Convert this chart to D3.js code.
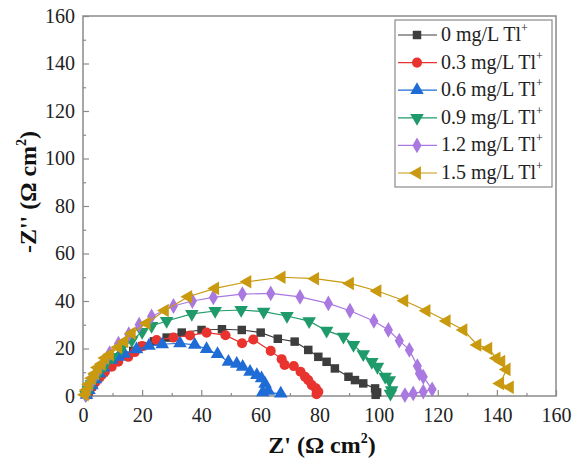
<!DOCTYPE html>
<html><head><meta charset="utf-8">
<script src="https://cdn.jsdelivr.net/npm/d3@7"></script>
<style>
body{margin:0;background:#fff;}
svg{display:block;font-family:"Liberation Serif","Times New Roman",serif;}
</style></head>
<body><svg id="c" width="573" height="469"></svg>
<script>
const seriesNames = ["0 mg/L Tl", "0.3 mg/L Tl", "0.6 mg/L Tl", "0.9 mg/L Tl", "1.2 mg/L Tl", "1.5 mg/L Tl"];
const seriesColors = ["#3d3d3d", "#e8332f", "#1f6cd6", "#1f9a6a", "#a978e0", "#c99a10"];
const seriesSymbols = ["square", "circle", "up", "down", "diamond", "left"];

const x0 = [1.5,2,3,4,5.5,7,9,11.5,14,17,20,24,28.3,33.4,40.1,47,53.7,60.1,65.9,71.6,76.2,79.6,82.4,85.2,89.8,92,94.8,98.8,99.5,99];
const y0 = [0.5,2,4,6,8,10,12.5,15,17,19,21,23,24.6,26.7,27.8,28.1,27.8,26.7,24.1,22.9,19.4,16.5,14.4,11.6,8.1,6.7,5.3,3.2,1.5,0.5];

const x1 = [1.5,1.8,2.5,3.5,4.3,5.2,6.3,7.4,9.7,11.9,15.3,17.5,20,24.9,30.6,36.2,41.8,48.2,53.8,57.6,63.5,67.2,68.2,71.3,73.6,75.1,76.2,77.4,78.8,79.6,79];
const y1 = [0.5,1.8,3.2,4.6,6,7.4,8.8,10.2,12.3,14.4,16.5,18.5,21,23.6,24.6,25.5,26.7,25.6,22.2,23.8,19,15.5,13.1,12.6,10.2,8.1,6.7,4.6,3.2,1.8,0.8];

const x2 = [1.2,2,3,4.2,5.5,7,9.7,12,14,18.1,22.3,26.8,32.8,37.8,41.8,45.5,49.2,52,54,56.5,58.8,60.4,61.6,62.7,60.8,66.9];
const y2 = [0.5,2.5,4.5,7,9.5,12,15.2,16.5,17.8,19.6,21.1,21.8,22.2,21.5,19.8,17.6,14.4,13.5,12.3,10.2,8.8,7.4,5.1,2.2,1.5,1];

const x3 = [1,1.8,2.8,4,5.5,7.5,10,13,16.5,20,23.2,28.3,36.8,44.7,53.5,61.1,69,76.5,82.4,88.1,91.5,94.8,97.7,99.6,102.2,103.6,104.4,104];
const y3 = [0.5,2.5,5,7.5,10,13,16.5,20,23.5,27,29.5,31.6,34.6,35.8,36.2,35.5,33.7,31.5,27.5,25,21.5,17.6,14.4,12.3,8.1,6.7,2.5,1];

const x4 = [0.8,1.5,2.5,3.6,5,6.8,9,12,15.5,19,23.2,30.6,37,44.1,53.9,63.5,73.4,83,90.3,98.4,103.3,107,110.4,113.1,113.8,115.1,118.1,115.1,111.7,108.9];
const y4 = [0.5,2.5,5,7.5,10.5,14,18,22,26,30,33.5,37.9,40,41.5,42.9,43.2,41.7,39,35.9,31.6,27.8,23.3,19.4,12.6,9.5,8.1,2.8,1.8,1.1,0.4];

const x5 = [0.6,1.2,2,3,4.1,5,6.3,7.5,9.1,11.9,14,16.5,21.5,27.7,35.6,44.7,55.6,67.2,78.5,90.3,99.6,108.7,116.2,123,128.7,133.4,137.1,139.9,141.5,143.3,141.1,144.4];
const y5 = [0.5,2.5,5,7.5,9.5,12,13.5,16,17.5,20.5,23,26.4,30.6,36,41.8,45.3,48.1,50,49.4,47.4,44.2,40.1,35.9,31.6,27.8,21.5,20,15.9,14.5,11.2,5.3,3.7];

const xTicks = [0,20,40,60,80,100,120,140,160];
const yTicks = [0,20,40,60,80,100,120,140,160];
const xTitle = "Z' (Ω cm";
const yTitle = "-Z'' (Ω cm";

const xs = [x0,x1,x2,x3,x4,x5];
const ys = [y0,y1,y2,y3,y4,y5];

const svg = d3.select("#c");
const L = 83, R = 556, T = 16, B = 396;
const x = d3.scaleLinear().domain([0,160]).range([L,R]);
const y = d3.scaleLinear().domain([0,160]).range([B,T]);
const frame = "#8a8a8a";

const minor = d3.range(10,160,20);
const gX = svg.append("g").attr("transform",`translate(0,${B})`)
  .call(d3.axisBottom(x).tickValues(xTicks).tickSize(-6).tickPadding(12).tickFormat(d3.format("d")));
const gXm = svg.append("g").attr("transform",`translate(0,${B})`)
  .call(d3.axisBottom(x).tickValues(minor).tickSize(-3).tickFormat(""));
const gY = svg.append("g").attr("transform",`translate(${L},0)`)
  .call(d3.axisLeft(y).tickValues(yTicks).tickSize(-6).tickPadding(8).tickFormat(d3.format("d")));
const gYm = svg.append("g").attr("transform",`translate(${L},0)`)
  .call(d3.axisLeft(y).tickValues(minor).tickSize(-3).tickFormat(""));
[gX,gXm,gY,gYm].forEach(g=>{
  g.select(".domain").remove();
  g.selectAll("line").attr("stroke",frame).attr("stroke-width",1.2);
  g.selectAll("text").attr("font-size",20).attr("fill","#222").attr("font-family","Liberation Serif");
});
svg.append("rect").attr("x",L).attr("y",T).attr("width",R-L).attr("height",B-T)
  .attr("fill","none").attr("stroke",frame).attr("stroke-width",1.5);

function sym(s){
  const m = {square:d3.symbolSquare, circle:d3.symbolCircle, up:d3.symbolTriangle, down:d3.symbolTriangle, diamond:d3.symbolDiamond, left:d3.symbolTriangle};
  return m[s];
}
function rot(s){ return s==="down"?180:(s==="left"?-90:0); }
function size(s){ return {square:72,circle:80,up:80,down:80,diamond:72,left:80}[s]; }

const line = d3.line().x(d=>x(d[0])).y(d=>y(d[1]));
const plot = svg.append("g");
for (let i=0;i<6;i++){
  const pts = xs[i].map((v,j)=>[v,ys[i][j]]);
  plot.append("path").datum(pts).attr("d",line).attr("fill","none")
    .attr("stroke",seriesColors[i]).attr("stroke-width",1.2);
  plot.selectAll(null).data(pts).enter().append("path")
    .attr("d",d3.symbol().type(sym(seriesSymbols[i])).size(size(seriesSymbols[i])))
    .attr("transform",d=>`translate(${x(d[0])},${y(d[1])}) rotate(${rot(seriesSymbols[i])})`)
    .attr("fill",seriesColors[i]);
}

// legend
const lg = svg.append("g");
lg.append("rect").attr("x",395).attr("y",20).attr("width",157).attr("height",167)
  .attr("fill","#fff").attr("stroke",frame).attr("stroke-width",1.2);
seriesNames.forEach((n,i)=>{
  const cy = 35 + i*27.6;
  lg.append("line").attr("x1",398).attr("x2",437).attr("y1",cy).attr("y2",cy)
    .attr("stroke",seriesColors[i]).attr("stroke-width",1.2);
  lg.append("path").attr("d",d3.symbol().type(sym(seriesSymbols[i])).size(size(seriesSymbols[i]))())
    .attr("transform",`translate(417,${cy}) rotate(${rot(seriesSymbols[i])})`)
    .attr("fill",seriesColors[i]);
  const t = lg.append("text").attr("x",441).attr("y",cy+6).attr("font-size",20).attr("fill","#222");
  t.append("tspan").text(n);
  t.append("tspan").text("+").attr("font-size",12).attr("dy",-9);
});

// titles
const xt = svg.append("text").attr("x",322).attr("y",453).attr("text-anchor","middle")
  .attr("font-size",24).attr("font-weight","bold").attr("fill","#111");
xt.append("tspan").text(xTitle);
xt.append("tspan").text("2").attr("font-size",14).attr("dy",-10);
xt.append("tspan").text(")").attr("dy",10);

const yt = svg.append("text").attr("transform","translate(36,192) rotate(-90)").attr("text-anchor","middle")
  .attr("font-size",24).attr("font-weight","bold").attr("fill","#111");
yt.append("tspan").text(yTitle);
yt.append("tspan").text("2").attr("font-size",14).attr("dy",-10);
yt.append("tspan").text(")").attr("dy",10);
</script></body></html>
